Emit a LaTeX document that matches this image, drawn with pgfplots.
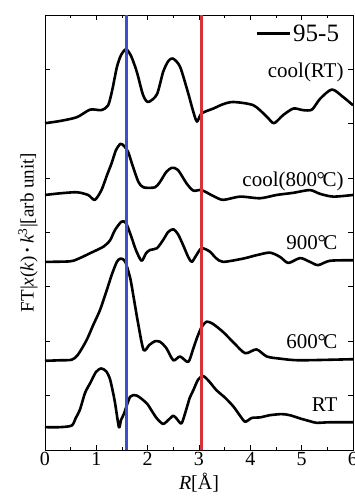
\documentclass[border=0pt]{standalone}
\usepackage{pgfplots}
\pgfplotsset{compat=1.18}
\usepackage{fontspec}
\setmainfont{Liberation Serif}
\definecolor{vblue}{RGB}{60,80,205}
\definecolor{vred}{RGB}{215,50,55}
\begin{document}
\begin{tikzpicture}
\begin{axis}[
  at={(0,0)}, anchor=south west,
  width=308pt, height=435pt, scale only axis,
  xmin=0, xmax=6, ymin=0, ymax=8,
  xtick={0,1,2,3,4,5,6}, minor xtick={0.5,1.5,2.5,3.5,4.5,5.5},
  ytick={0,1,2,3,4,5,6,7,8}, yticklabels={},
  tick align=inside, major tick length=5pt, minor tick length=3pt,
  axis line style={line width=0.9pt}, tick style={line width=0.8pt, black},
  every tick label/.append style={font=\fontsize{20}{20}\selectfont},
  /pgf/number format/assume math mode=true,
  xticklabel style={yshift=1pt},
  xlabel={\textit{R}[Å]}, xlabel style={font=\fontsize{20}{20}\selectfont, yshift=0pt},
  ylabel={FT|\textit{x}(\textit{k})\,\textbf{·}\,\textit{k}\textsuperscript{3}|[arb unit]},
  ylabel style={font=\fontsize{19}{19}\selectfont, yshift=-3pt},
  legend style={draw=none, fill=none, at={(0.965,0.985)}, anchor=north east, font=\fontsize{25}{25}\selectfont, inner sep=1pt},
  legend image code/.code={\draw[#1] (0pt,0pt) -- (33pt,0pt);},
  legend cell align=left,
  every axis plot/.append style={smooth, tension=0.45},
]
% cool(RT)
\addplot[black, line width=2.6pt, line join=round] coordinates {
(0,6.01) (0.29,6.05) (0.62,6.12) (0.88,6.26) (1.10,6.25) (1.23,6.34) (1.31,6.62) (1.40,7.04) (1.48,7.26) (1.58,7.37) (1.68,7.24) (1.79,6.95) (1.91,6.53) (2.01,6.40) (2.18,6.54) (2.30,6.95) (2.40,7.15) (2.49,7.20) (2.63,7.05) (2.79,6.56) (2.88,6.25) (2.96,6.04) (3.05,6.19) (3.28,6.28) (3.47,6.36) (3.67,6.40) (4.06,6.34) (4.32,6.13) (4.46,6.01) (4.64,6.16) (4.84,6.28) (5.03,6.25) (5.20,6.26) (5.36,6.46) (5.59,6.63) (5.81,6.49) (6.0,6.34)};
\addlegendentry{95-5}
% cool(800C)
\addplot[black, line width=2.6pt, line join=round] coordinates {
(0,4.69) (0.29,4.72) (0.62,4.74) (0.84,4.69) (0.97,4.60) (1.10,4.78) (1.21,5.06) (1.30,5.28) (1.38,5.51) (1.47,5.63) (1.54,5.59) (1.62,5.48) (1.71,5.22) (1.82,4.93) (1.92,4.83) (2.14,4.83) (2.24,4.93) (2.36,5.11) (2.47,5.19) (2.59,5.15) (2.76,4.90) (2.89,4.77) (3.05,4.78) (3.28,4.67) (3.47,4.60) (3.80,4.66) (4.19,4.63) (4.51,4.69) (4.84,4.73) (5.16,4.78) (5.36,4.71) (5.62,4.66) (6.0,4.69)};
% 900C
\addplot[black, line width=2.6pt, line join=round] coordinates {
(0,3.46) (0.49,3.47) (0.68,3.53) (0.88,3.62) (1.14,3.74) (1.27,3.86) (1.36,4.04) (1.49,4.20) (1.58,4.17) (1.69,3.90) (1.77,3.68) (1.88,3.48) (1.97,3.62) (2.05,3.68) (2.18,3.71) (2.30,3.86) (2.40,4.01) (2.50,4.06) (2.59,3.97) (2.69,3.77) (2.79,3.55) (2.86,3.46) (2.94,3.57) (3.05,3.71) (3.21,3.65) (3.33,3.53) (3.47,3.46) (3.86,3.52) (4.11,3.58) (4.38,3.63) (4.58,3.55) (4.74,3.44) (4.97,3.53) (5.16,3.46) (5.32,3.40) (5.55,3.48) (6.0,3.49)};
% 600C
\addplot[black, line width=2.6pt, line join=round] coordinates {
(0,1.64) (0.29,1.65) (0.52,1.66) (0.64,1.75) (0.81,2.02) (0.94,2.30) (1.07,2.57) (1.19,2.90) (1.30,3.22) (1.40,3.46) (1.47,3.52) (1.56,3.47) (1.66,3.16) (1.73,2.79) (1.81,2.35) (1.92,1.84) (2.03,1.93) (2.14,2.00) (2.24,1.99) (2.36,1.88) (2.50,1.65) (2.63,1.72) (2.79,1.62) (2.88,1.84) (2.96,2.06) (3.05,2.26) (3.15,2.36) (3.27,2.32) (3.47,2.17) (3.68,1.97) (3.90,1.78) (4.12,1.85) (4.32,1.72) (4.58,1.68) (4.97,1.65) (6.0,1.67)};
% RT
\addplot[black, line width=2.6pt, line join=round] coordinates {
(0,0.42) (0.29,0.42) (0.52,0.45) (0.60,0.59) (0.68,0.74) (0.78,1.05) (0.88,1.23) (0.99,1.43) (1.09,1.50) (1.19,1.45) (1.27,1.29) (1.36,0.89) (1.44,0.42) (1.48,0.55) (1.54,0.67) (1.66,0.98) (1.79,1.00) (1.98,0.86) (2.08,0.72) (2.18,0.58) (2.30,0.48) (2.40,0.55) (2.50,0.63) (2.57,0.57) (2.66,0.49) (2.75,0.74) (2.82,0.96) (2.89,1.10) (2.98,1.29) (3.08,1.36) (3.19,1.27) (3.34,1.10) (3.51,0.96) (3.67,0.80) (3.80,0.63) (3.90,0.52) (4.03,0.59) (4.19,0.60) (4.38,0.64) (4.61,0.66) (4.77,0.64) (4.97,0.58) (5.16,0.53) (5.29,0.50) (5.55,0.51) (6.0,0.51)};
% vertical lines
\addplot[vblue, line width=2.5pt, forget plot, sharp plot] coordinates {(1.59,0) (1.59,8)};
\addplot[vred, line width=2.3pt, forget plot, sharp plot] coordinates {(3.05,0) (3.05,8)};
% labels
\node[anchor=east, font=\fontsize{21}{21}\selectfont, inner sep=0pt] at (axis cs:5.82,6.95) {cool(RT)};
\node[anchor=east, font=\fontsize{21}{21}\selectfont, inner sep=0pt] at (axis cs:5.82,4.94) {cool(800\kern-0.02em°\kern-0.12em C)};
\node[anchor=east, font=\fontsize{21}{21}\selectfont, inner sep=0pt] at (axis cs:5.7,3.82) {900\kern-0.02em°\kern-0.12em C};
\node[anchor=east, font=\fontsize{21}{21}\selectfont, inner sep=0pt] at (axis cs:5.7,1.99) {600\kern-0.02em°\kern-0.12em C};
\node[anchor=east, font=\fontsize{21}{21}\selectfont, inner sep=0pt] at (axis cs:5.7,0.83) {RT};
\end{axis}
\pgfresetboundingbox
\path[use as bounding box] (-45pt,-50pt) rectangle (309pt,450pt);
\end{tikzpicture}
\end{document}
